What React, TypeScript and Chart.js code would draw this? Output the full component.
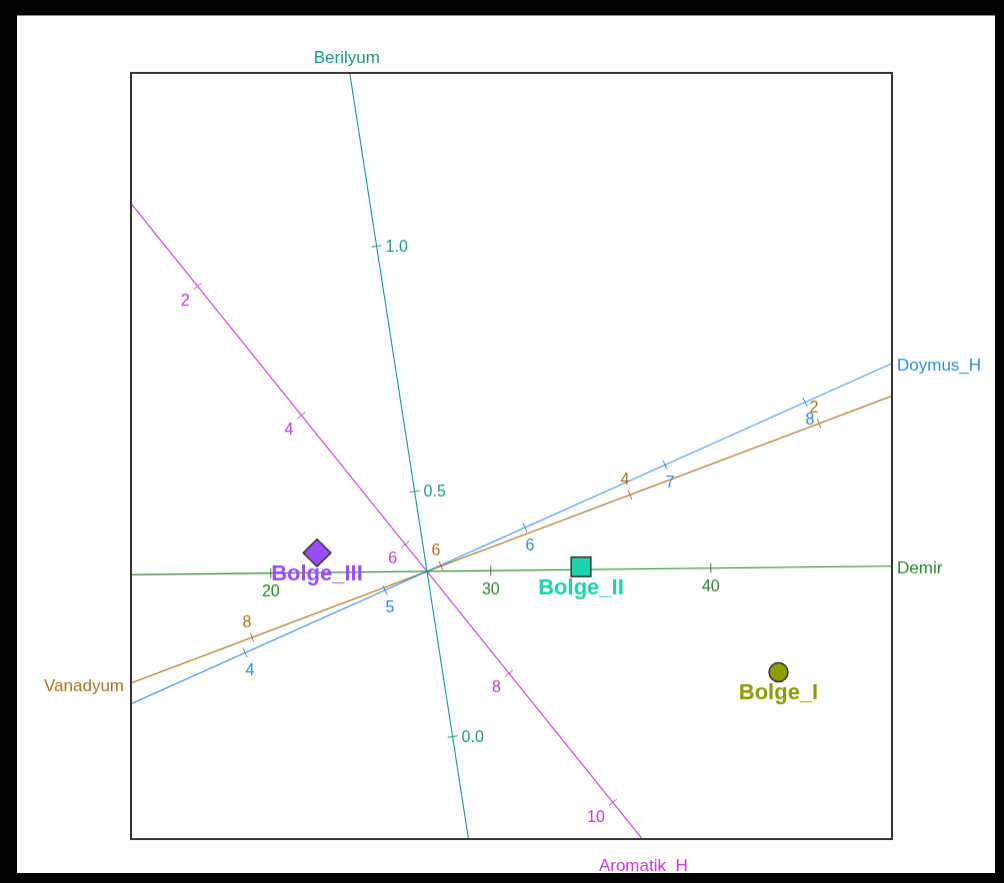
import React, { useEffect, useRef } from "react";
import { Chart, registerables } from "chart.js";

Chart.register(...registerables);

// Region (genotype/environment) scores
const regions = ["Bolge_I", "Bolge_II", "Bolge_III"];
const regionX = [3.515, 1.54, -1.1];
const regionY = [-1.01, 0.045, 0.185];
const regionColors = ["#8f9a00", "#1fd1ad", "#9a4cf5"];
const regionStyles = ["circle", "rect", "rectRot"];
const regionRadius = [9.5, 13.9, 13.8];

// Trait biplot axes: direction per trait unit, value at origin
const traits = ["Demir", "Berilyum", "Doymus_H", "Vanadyum", "Aromatik_H"];
const traitDirX = [0.22, -0.76, 1.4, -0.945, 0.519];
const traitDirY = [0.0025, 4.91, 0.627, -0.357, -0.646];
const traitCenters = [27.1, 0.337, 5.3, 6.148, 6.42];
const traitColors = ["#2a862a", "#1a9886", "#3388e6", "#a87224", "#c23ad8"];

// Tick labels for each trait axis
const demirTicks = [20, 30, 40];
const berilyumTicks = [0.0, 0.5, 1.0];
const doymusTicks = [4, 5, 6, 7, 8];
const vanadyumTicks = [2, 4, 6, 8];
const aromatikTicks = [2, 4, 6, 8, 10];
const traitTicks = [demirTicks, berilyumTicks, doymusTicks, vanadyumTicks, aromatikTicks];
const tickDecimals = [0, 1, 0, 0, 0];

// Plot window
const xMin = -2.96, xMax = 4.65, yMin = -2.68, yMax = 4.99;

// label placement relative to tick (styling)
const tickLabelPlace = [
  { align: "center", dx: 0, dy: 19 },
  { align: "left", dx: 9, dy: 1 },
  { align: "center", dx: 5, dy: 18 },
  { align: "center", dx: -5, dy: -15 },
  { align: "right", dx: -8, dy: 15 },
];

const FONT = "'Liberation Sans', Arial, sans-serif";

const overlay = {
  id: "biplotOverlay",
  afterDatasetsDraw(chart: any) {
    const ctx = chart.ctx;
    const xs = chart.scales.x;
    const ys = chart.scales.y;
    const a = chart.chartArea;
    ctx.save();
    const ox = xs.getPixelForValue(0);
    const oy = ys.getPixelForValue(0);
    traits.forEach((name, i) => {
      const dx = traitDirX[i], dy = traitDirY[i], c = traitCenters[i];
      const ux = xs.getPixelForValue(dx) - ox;
      const uy = ys.getPixelForValue(dy) - oy;
      const len = Math.hypot(ux, uy);
      const ex = ux / len, ey = uy / len;
      const nx = -ey, ny = ex;
      ctx.strokeStyle = traitColors[i];
      ctx.fillStyle = traitColors[i];
      ctx.lineWidth = 1;
      const pl = tickLabelPlace[i];
      traitTicks[i].forEach((v) => {
        const px = xs.getPixelForValue((v - c) * dx);
        const py = ys.getPixelForValue((v - c) * dy);
        ctx.beginPath();
        ctx.moveTo(px - nx * 5, py - ny * 5);
        ctx.lineTo(px + nx * 5, py + ny * 5);
        ctx.stroke();
        ctx.font = "16px " + FONT;
        ctx.textAlign = pl.align;
        ctx.textBaseline = "middle";
        ctx.fillText(v.toFixed(tickDecimals[i]), px + pl.dx, py + pl.dy);
      });
      // axis name at positive end
      let t = Infinity;
      let edge = "";
      if (ex > 0 && (a.right - ox) / ex < t) { t = (a.right - ox) / ex; edge = "right"; }
      if (ex < 0 && (a.left - ox) / ex < t) { t = (a.left - ox) / ex; edge = "left"; }
      if (ey > 0 && (a.bottom - oy) / ey < t) { t = (a.bottom - oy) / ey; edge = "bottom"; }
      if (ey < 0 && (a.top - oy) / ey < t) { t = (a.top - oy) / ey; edge = "top"; }
      const hx = ox + ex * t, hy = oy + ey * t;
      ctx.font = "17px " + FONT;
      ctx.textBaseline = "middle";
      if (edge === "top") { ctx.textAlign = "center"; ctx.fillText(name, hx - 3, hy - 15); }
      else if (edge === "bottom") { ctx.textAlign = "center"; ctx.fillText(name, hx + 1, hy + 27); }
      else if (edge === "right") { ctx.textAlign = "left"; ctx.fillText(name, hx + 5, hy + 3); }
      else { ctx.textAlign = "right"; ctx.fillText(name, hx - 7, hy + 3); }
    });
    ctx.restore();
  },
  afterDraw(chart: any) {
    const ctx = chart.ctx;
    const xs = chart.scales.x;
    const ys = chart.scales.y;
    const a = chart.chartArea;
    ctx.save();
    regions.forEach((r, i) => {
      const px = xs.getPixelForValue(regionX[i]);
      const py = ys.getPixelForValue(regionY[i]);
      ctx.font = "bold 22px " + FONT;
      ctx.textAlign = "center";
      ctx.textBaseline = "middle";
      ctx.fillStyle = regionColors[i];
      ctx.fillText(r, px, py + 21);
    });
    ctx.strokeStyle = "#333";
    ctx.lineWidth = 2;
    ctx.strokeRect(a.left, a.top, a.right - a.left, a.bottom - a.top);
    ctx.restore();
  },
};

export default function App() {
  const ref = useRef<HTMLCanvasElement>(null);
  useEffect(() => {
    document.body.style.margin = "0";
    const lineSets = traits.map((name, i) => {
      const dx = traitDirX[i], dy = traitDirY[i];
      const n = Math.hypot(dx, dy);
      const k = 20 / n;
      return {
        type: "line" as const,
        label: name,
        data: [
          { x: -dx * k, y: -dy * k },
          { x: dx * k, y: dy * k },
        ],
        borderColor: traitColors[i],
        borderWidth: 1.1,
        pointRadius: 0,
        showLine: true,
        order: 2,
      };
    });
    const chart = new Chart(ref.current!, {
      type: "scatter",
      data: {
        datasets: [
          {
            label: "Regions",
            data: regions.map((r, i) => ({ x: regionX[i], y: regionY[i] })),
            backgroundColor: regionColors,
            borderColor: "#333",
            borderWidth: 1.5,
            pointStyle: regionStyles as any,
            pointRadius: regionRadius,
            order: 0,
          },
          ...lineSets,
        ] as any,
      },
      options: {
        responsive: false,
        animation: false,
        devicePixelRatio: 1,
        layout: { padding: { left: 114, top: 57, right: 103, bottom: 34 } },
        plugins: { legend: { display: false }, tooltip: { enabled: false } },
        scales: {
          x: { type: "linear", min: xMin, max: xMax, display: false },
          y: { type: "linear", min: yMin, max: yMax, display: false },
        },
      },
      plugins: [overlay],
    });
    return () => chart.destroy();
  }, []);
  return (
    <div style={{ position: "relative", width: 1004, height: 883, background: "#000" }}>
      <canvas
        ref={ref}
        width={978}
        height={858}
        style={{ position: "absolute", left: 17, top: 15, width: 978, height: 858, background: "#fff", borderTop: "1px solid #888", boxSizing: "border-box" }}
      />
    </div>
  );
}
